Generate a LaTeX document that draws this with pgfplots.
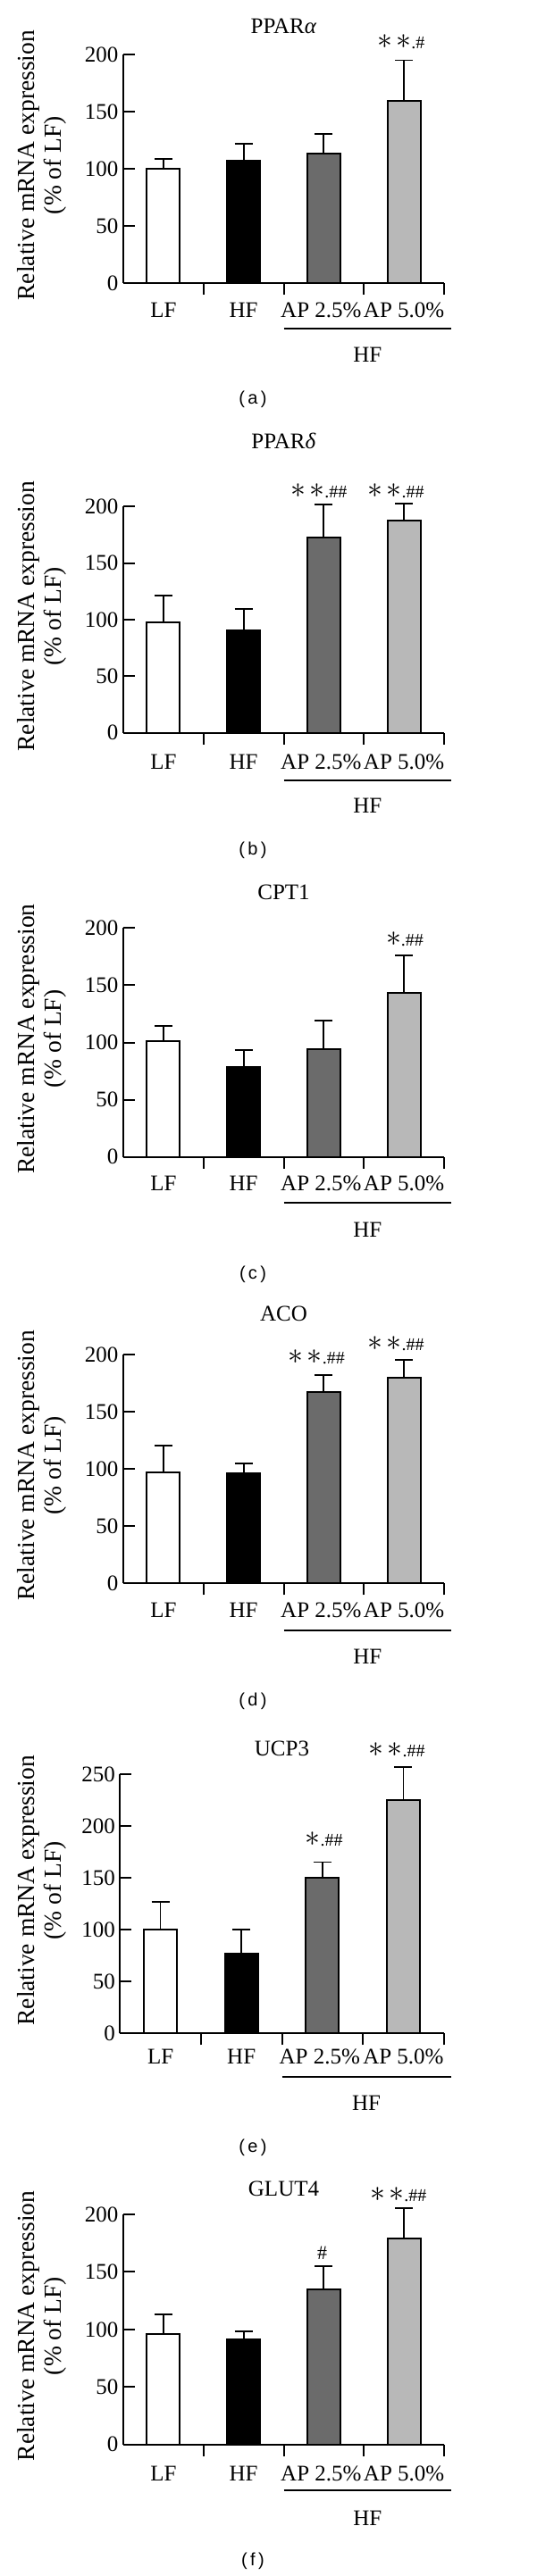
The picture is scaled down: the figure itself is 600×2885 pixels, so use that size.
\RequirePackage{fix-cm}
\documentclass[border=0pt]{standalone}
\usepackage{pgfplots}
\pgfplotsset{compat=1.18}
\usepackage{fontspec}
\setmainfont{Liberation Serif}
\newfontfamily\capfont{Liberation Sans}
\definecolor{apdark}{gray}{0.42}
\definecolor{aplight}{gray}{0.72}
\newcommand{\tl}{\fontsize{25}{30}\selectfont}
\newcommand{\bigast}{\scalebox{1.35}{$\ast$}}
\newcommand{\astTwo}{{\tl\bigast\,\bigast}}
\newcommand{\astOne}{{\tl\bigast}}
\newcommand{\hashTwo}{{\fontsize{20}{20}\selectfont.\#\#}}
\newcommand{\hashOne}{{\fontsize{20}{20}\selectfont.\#}}
\newcommand{\captxt}[1]{{\capfont\fontsize{20}{24}\selectfont(\,#1\,)}}
% category labels (baseline offset), group line offset, group label baseline offset
\newcommand{\cats}[3]{%
  \node[font=\tl, anchor=base] at ([yshift=-#1pt]axis cs:0.5,0) {LF};
  \node[font=\tl, anchor=base] at ([yshift=-#1pt]axis cs:1.5,0) {HF};
  \node[font=\tl, anchor=base] at ([yshift=-#1pt,xshift=-3pt]axis cs:2.5,0) {AP 2.5\%};
  \node[font=\tl, anchor=base] at ([yshift=-#1pt]axis cs:3.5,0) {AP 5.0\%};
  \draw[line width=2pt] ([yshift=-#2pt]axis cs:2,0) -- ([yshift=-#2pt,xshift=8pt]axis cs:4,0);
  \node[font=\tl, anchor=base] at ([yshift=-#3pt,xshift=4pt]axis cs:3,0) {HF};
}
\pgfplotsset{
  panel/.style={
    scale only axis, width=359pt, height=256pt,
    anchor=south west, clip=false,
    xmin=0, xmax=4, ymin=0, ymax=200,
    ytick={0,50,...,200},
    xtick={1,2,3,4},
    xticklabels={},
    tick align=inside,
    major tick length=13pt,
    tick style={black, line width=2pt},
    axis x line*=bottom, axis y line*=left,
    xtick pos=bottom, ytick pos=left,
    axis line style={black, line width=2pt, -},
    every outer x axis line/.append style={-},
    every outer y axis line/.append style={-},
    ticklabel style={font=\tl},
    /pgf/number format/assume math mode=true,
    yticklabel style={xshift=-2pt},
    title style={font=\tl, at={(axis description cs:0.5,1)}, anchor=center},
    ylabel={Relative mRNA expression\\(\% of LF)},
    ylabel style={align=center, font=\fontsize{27.5}{30}\selectfont, at={(axis description cs:-0.2535,0.515)}, anchor=center},
    ybar, bar width=37pt,
    error bars/y dir=plus, error bars/y explicit,
    error bars/error bar style={line width=1.8pt, black},
    error bars/error mark options={rotate=90, line width=1.8pt, black, mark size=10pt},
  },
  bb/.style={bar shift=0pt, draw=black, line width=1.8pt, fill=#1},
}
\begin{document}
\begin{tikzpicture}
\useasboundingbox (0pt,0pt) rectangle (600pt,-2885pt);
% (a)
\begin{axis}[panel, at={(138pt,-317pt)}, height=256pt,
  title={PPAR\textit{α}}, title style={yshift=26pt}]
\addplot[bb=white] coordinates {(0.5,100) +- (0,8.4)};
\addplot[bb=black] coordinates {(1.5,107.5) +- (0,14.4)};
\addplot[bb=apdark] coordinates {(2.5,113) +- (0,17.5)};
\addplot[bb=aplight] coordinates {(3.5,159.6) +- (0,35.4)};
\node[anchor=center] at ([yshift=270pt]axis cs:3.465,0) {\astTwo\hashOne};
\cats{38}{51}{88.3}
\end{axis}
\node at (283pt,-447pt) {\captxt{a}};
% (b)
\begin{axis}[panel, at={(138pt,-820.7pt)}, height=253.4pt,
  title={PPAR\textit{δ}}, title style={yshift=67pt}]
\addplot[bb=white] coordinates {(0.5,97.6) +- (0,23.7)};
\addplot[bb=black] coordinates {(1.5,90.8) +- (0,18.7)};
\addplot[bb=apdark] coordinates {(2.5,172.6) +- (0,29.4)};
\addplot[bb=aplight] coordinates {(3.5,187.6) +- (0,14.8)};
\node[anchor=center] at ([yshift=270.7pt]axis cs:2.44,0) {\astTwo\hashTwo};
\node[anchor=center] at ([yshift=270.7pt]axis cs:3.40,0) {\astTwo\hashTwo};
\cats{40.5}{53}{89.3}
\end{axis}
\node at (283pt,-952pt) {\captxt{b}};
% (c)
\begin{axis}[panel, at={(138pt,-1295.7pt)}, height=256.4pt,
  title={CPT1}, title style={yshift=34pt}]
\addplot[bb=white] coordinates {(0.5,101.2) +- (0,13.5)};
\addplot[bb=black] coordinates {(1.5,78.6) +- (0,15)};
\addplot[bb=apdark] coordinates {(2.5,93.9) +- (0,25.5)};
\addplot[bb=aplight] coordinates {(3.5,143.1) +- (0,33.2)};
\node[anchor=center] at ([yshift=244pt]axis cs:3.51,0) {\astOne\hashTwo};
\cats{38}{51}{89.3}
\end{axis}
\node at (283pt,-1427pt) {\captxt{c}};
% (d)
\begin{axis}[panel, at={(138pt,-1773.3pt)}, height=256.3pt,
  title={ACO}, title style={yshift=40pt}]
\addplot[bb=white] coordinates {(0.5,96.8) +- (0,23.4)};
\addplot[bb=black] coordinates {(1.5,96.2) +- (0,8.4)};
\addplot[bb=apdark] coordinates {(2.5,167.2) +- (0,15.1)};
\addplot[bb=aplight] coordinates {(3.5,179.7) +- (0,15.6)};
\node[anchor=center] at ([yshift=253.3pt]axis cs:2.41,0) {\astTwo\hashTwo};
\node[anchor=center] at ([yshift=268.3pt]axis cs:3.40,0) {\astTwo\hashTwo};
\cats{38.5}{52.4}{90}
\end{axis}
\node at (283pt,-1905pt) {\captxt{d}};
% (e)
\begin{axis}[panel, at={(134.3pt,-2277.3pt)}, width=362.4pt, height=290pt,
  ymax=250, ytick={0,50,...,250},
  ylabel style={at={(axis description cs:-0.2403,0.552)}},
  title={UCP3}, title style={yshift=23pt}]
\addplot[bb=white] coordinates {(0.5,100) +- (0,26.9)};
\addplot[bb=black] coordinates {(1.5,77.4) +- (0,22.6)};
\addplot[bb=apdark] coordinates {(2.5,150) +- (0,15.3)};
\addplot[bb=aplight] coordinates {(3.5,225.5) +- (0,31.9)};
\node[anchor=center] at ([yshift=217.3pt]axis cs:2.52,0) {\astOne\hashTwo};
\node[anchor=center] at ([yshift=317.3pt]axis cs:3.42,0) {\astTwo\hashTwo};
\cats{34}{48.4}{86}
\end{axis}
\node at (283pt,-2405pt) {\captxt{e}};
% (f)
\begin{axis}[panel, at={(138pt,-2737.7pt)}, height=257.7pt,
  title={GLUT4}, title style={yshift=23pt}]
\addplot[bb=white] coordinates {(0.5,96.2) +- (0,17.1)};
\addplot[bb=black] coordinates {(1.5,91.3) +- (0,7.3)};
\addplot[bb=apdark] coordinates {(2.5,134.6) +- (0,20.4)};
\addplot[bb=aplight] coordinates {(3.5,178.8) +- (0,26.4)};
\node[anchor=center] at ([yshift=214.7pt]axis cs:2.48,0) {{\fontsize{22}{22}\selectfont\#}};
\node[anchor=center] at ([yshift=279.7pt]axis cs:3.43,0) {\astTwo\hashTwo};
\cats{40.8}{51.3}{90.6}
\end{axis}
\node at (283pt,-2868pt) {\captxt{f}};
\end{tikzpicture}
\end{document}
